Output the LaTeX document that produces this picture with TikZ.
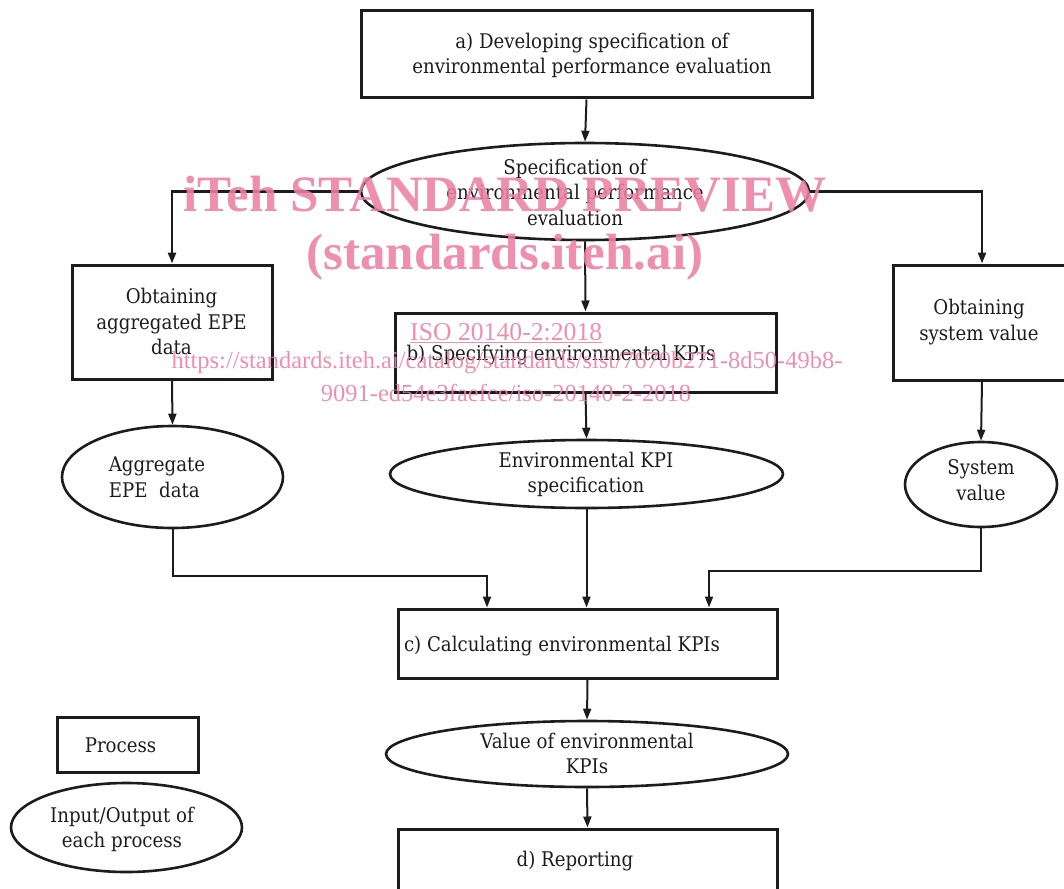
\documentclass[tikz,border=0pt]{standalone}
\usepackage{fontspec}
\setmainfont{DejaVu Serif Condensed}
\newfontfamily\wmfont{Liberation Serif}
\usetikzlibrary{arrows.meta,shapes.geometric,calc}
\definecolor{ink}{RGB}{30,27,28}
\definecolor{wmpink}{RGB}{234,128,162}
\begin{document}
\begin{tikzpicture}[x=1pt,y=-1pt,
  every node/.style={font=\fontsize{20.2}{25.5}\selectfont, text=ink},
  procbox/.style={draw=ink, rectangle, line width=3pt, inner sep=0pt},
  ioell/.style={draw=ink, ellipse, line width=2.6pt, inner sep=0pt},
  txt/.style={align=center, inner sep=0pt},
  conn/.style={draw=ink, line width=2pt, -{Triangle[length=11pt,width=8pt]}},
  wm/.style={text=wmpink, text opacity=0.88, anchor=base, inner sep=0pt}]
\useasboundingbox (0,0) rectangle (1064,888);
\clip (0,0) rectangle (1064,888);
% shapes
\node[procbox, minimum width=451pt, minimum height=87pt] (a) at (586.5,54.5) {};
\node[ioell, minimum width=448pt, minimum height=97pt] (s1) at (585,191.5) {};
\node[procbox, minimum width=200pt, minimum height=114pt] (o1) at (172,322) {};
\node[procbox, minimum width=381pt, minimum height=79pt] (b) at (585.5,352.5) {};
\node[procbox, minimum width=178pt, minimum height=115pt] (o3) at (982,322.5) {};
\node[ioell, minimum width=221pt, minimum height=102pt] (agg) at (172.5,477) {};
\node[ioell, minimum width=393pt, minimum height=68pt] (ks) at (586.5,474) {};
\node[ioell, minimum width=152pt, minimum height=85pt] (sys) at (981,484.5) {};
\node[procbox, minimum width=379pt, minimum height=69pt] (c) at (587.5,643.5) {};
\node[ioell, minimum width=402pt, minimum height=66pt] (val) at (587,754) {};
\node[procbox, minimum width=379pt, minimum height=80pt] (d) at (587.5,869) {};
\node[procbox, minimum width=141pt, minimum height=55pt] (lp) at (127.5,744.5) {};
\node[ioell, minimum width=231pt, minimum height=89pt] (le) at (126.5,827.5) {};
% texts
\node[txt] (at) at (592,55.5) {a) Developing specification of\\environmental performance evaluation};
\node[txt] (s1t) at (575,192) {Specification of\\environmental performance\\evaluation};
\node[txt] (o1t) at (171.5,321.5) {Obtaining\\aggregated EPE\\data};
\node[txt] (bt) at (561,355) {b) Specifying environmental KPIs};
\node[txt] (o3t) at (979,322) {Obtaining\\system value};
\node[txt, align=left] (aggt) at (157,477.5) {Aggregate\\EPE\ \ data};
\node[txt] (kst) at (586,474.5) {Environmental KPI\\specification};
\node[txt] (syst) at (981,480) {System\\value};
\node[txt] (ct) at (562,646) {c) Calculating environmental KPIs};
\node[txt] (valt) at (587,753.5) {Value of environmental\\KPIs};
\node[txt] (dt) at (575,861) {d) Reporting};
\node[txt] (lpt) at (120.5,745) {Process};
\node[txt] (let) at (122,829.5) {Input/Output of\\each process};
% connectors
\coordinate (cin1) at ([xshift=-100.5pt]c.north);
\coordinate (cin3) at ([xshift=121.5pt]c.north);
\draw[conn] (a.south) -- (s1.north);
\draw[conn, line width=2.5pt] (s1.west) -| (o1.north);
\draw[conn, line width=2.5pt] (s1.east) -| (o3.north);
\draw[conn] (s1.south) -- (b.north);
\draw[conn] (o1.south) -- (agg.north);
\draw[conn] (b.south) -- (ks.north);
\draw[conn] (o3.south) -- (sys.north);
\draw[conn] (agg.south) -- ++(0,47) -| (cin1);
\draw[conn] (ks.south) -- (ks.south |- c.north);
\draw[conn] (sys.south) -- ++(0,43) -| (cin3);
\draw[conn] (c.south) -- (val.north);
\draw[conn] (val.south) -- (d.north);
% watermark
\node[wm, font=\wmfont\bfseries\fontsize{51}{51}\selectfont] (w1) at (505,211) {iTeh STANDARD PREVIEW};
\node[wm, font=\wmfont\bfseries\fontsize{51}{51}\selectfont] (w2) at (505,269) {(standards.iteh.ai)};
\node[wm, anchor=base west, font=\wmfont\fontsize{25.7}{26}\selectfont] (w3) at (410,340) {\underline{ISO 20140-2:2018}};
\node[wm, font=\wmfont\fontsize{24.5}{25}\selectfont] (w4) at (507,368) {https://standards.iteh.ai/catalog/standards/sist/7670b271-8d50-49b8-};
\node[wm, font=\wmfont\fontsize{24.5}{25}\selectfont] (w5) at (506,401) {9091-ed54e3faefce/iso-20140-2-2018};
\end{tikzpicture}
\end{document}
